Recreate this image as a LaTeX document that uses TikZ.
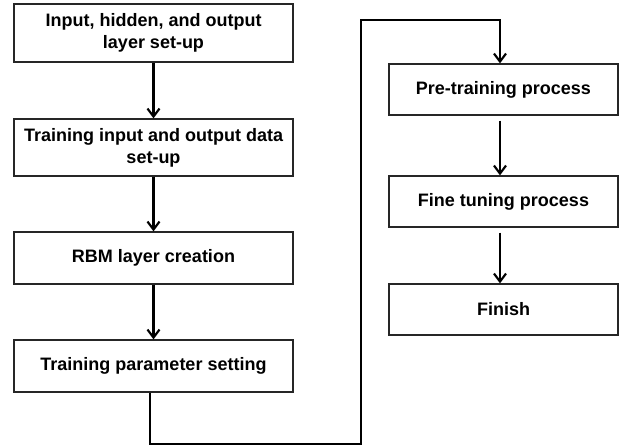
\documentclass[tikz,border=0pt]{standalone}
\usepackage{fontspec}
\setmainfont{Liberation Sans}
\usetikzlibrary{arrows.meta,calc}
\begin{document}
\begin{tikzpicture}[x=0.75pt,y=-0.75pt,
  box/.style={draw=black!85,line width=1pt,fill=white,inner sep=0pt,align=center,
    font=\fontsize{13.5}{16.5}\selectfont\bfseries},
  lbox/.style={box,minimum width=209.25pt},
  rbox/.style={box,minimum width=171.75pt},
  conn/.style={line width=1.6pt,-{Straight Barb[length=6pt,width=9pt,line width=1.6pt]}},
  line/.style={line width=1.6pt}]
\useasboundingbox (0,0) rectangle (619,447);
\node[lbox,minimum height=43.5pt] (b1) at (153.5,33) {Input, hidden, and output\\layer set-up};
\node[lbox,minimum height=42.75pt] (b2) at (153.5,147.5) {Training input and output data\\set-up};
\node[lbox,minimum height=39pt] (b3) at (153.5,258) {RBM layer creation};
\node[lbox,minimum height=39pt] (b4) at (153.5,366) {Training parameter setting};
\node[rbox,minimum height=38.25pt] (b5) at (503.5,89.5) {Pre-training process};
\node[rbox,minimum height=38.25pt] (b6) at (503.5,201.5) {Fine tuning process};
\node[rbox,minimum height=38.25pt] (b7) at (503.5,309.5) {Finish};
\coordinate (c1) at (150,444);
\coordinate (c2) at (361,444);
\coordinate (c3) at (361,20);
\coordinate (c4) at (500,20);
\draw[conn] (b1.south) -- (b2.north);
\draw[conn] (b2.south) -- (b3.north);
\draw[conn] (b3.south) -- (b4.north);
\draw[conn] ($(b5.south)+(-3.5,5)$) -- ($(b6.north)+(-3.5,0)$);
\draw[conn] ($(b6.south)+(-3.5,5)$) -- ($(b7.north)+(-3.5,0)$);
\draw[conn,line join=miter] (b4.south -| c1) -- (c1) -- (c2) -- (c3) -- (c4) -- (b5.north -| c4);
\end{tikzpicture}
\end{document}
